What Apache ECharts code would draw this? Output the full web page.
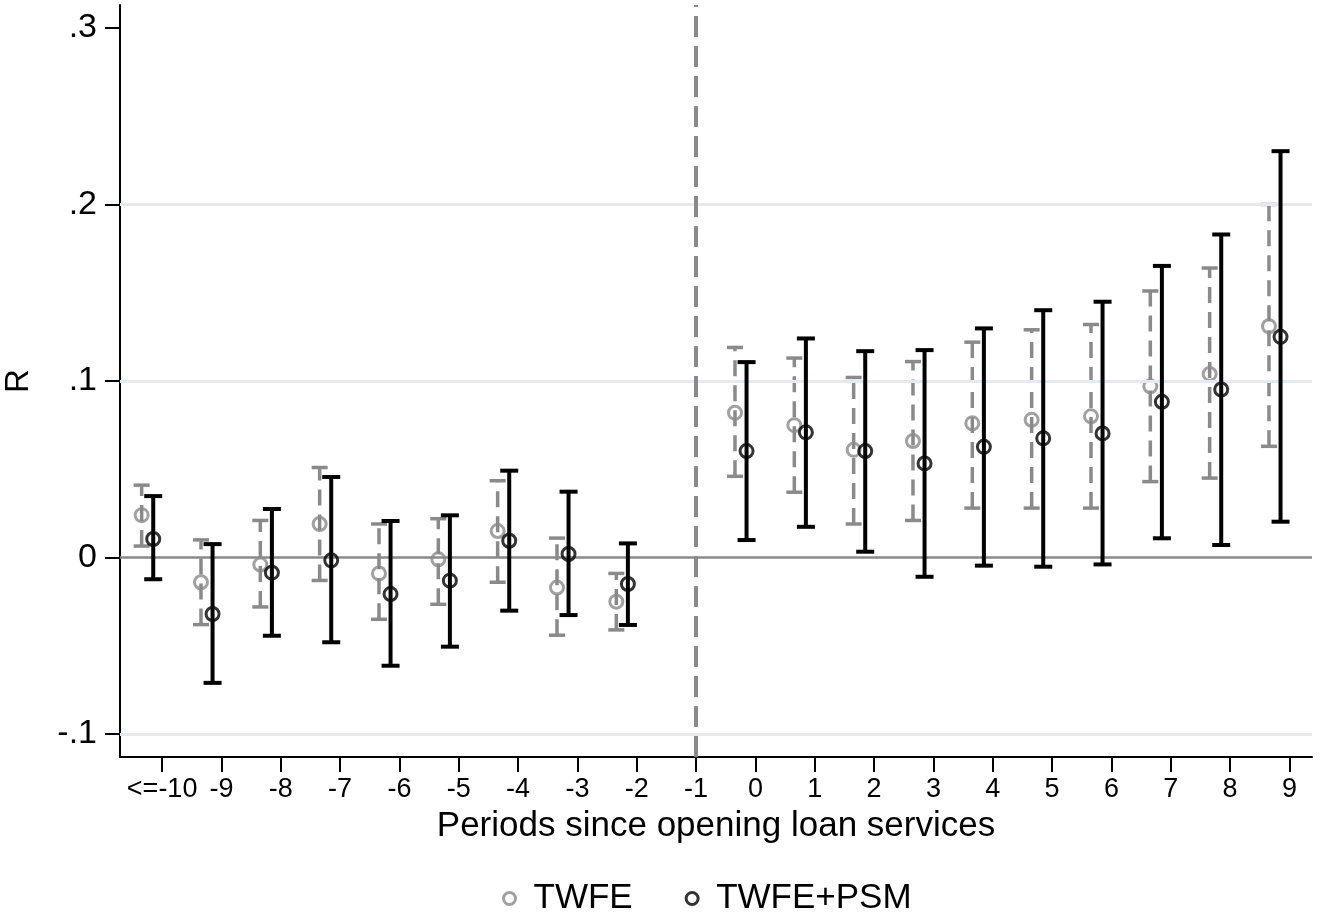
<!DOCTYPE html>
<html>
<head>
<meta charset="utf-8">
<script src="https://cdn.jsdelivr.net/npm/echarts@6/dist/echarts.min.js"></script>
<style>
html,body{margin:0;padding:0;background:#fff;}
#chart{width:1321px;height:918px;}
</style>
</head>
<body>
<div id="chart"></div>
<script>
// ---- data ----
const categories = ['<=-10','-9','-8','-7','-6','-5','-4','-3','-2','-1','0','1','2','3','4','5','6','7','8','9'];
const yTickValues = [-0.1, 0, 0.1, 0.2, 0.3];

const twfeCoef = [0.024, -0.014, -0.004, 0.019, -0.009, -0.001, 0.015, -0.017, -0.025, null, 0.082, 0.075, 0.061, 0.066, 0.076, 0.078, 0.080, 0.097, 0.104, 0.131];
const twfeLo   = [0.0065, -0.038, -0.028, -0.013, -0.035, -0.0265, -0.014, -0.044, -0.041, null, 0.046, 0.037, 0.019, 0.021, 0.028, 0.028, 0.028, 0.043, 0.045, 0.063];
const twfeHi   = [0.041, 0.010, 0.021, 0.051, 0.019, 0.022, 0.0435, 0.011, -0.009, null, 0.119, 0.113, 0.102, 0.111, 0.122, 0.129, 0.132, 0.151, 0.164, 0.200];

const psmCoef = [0.0105, -0.032, -0.0086, -0.0016, -0.0207, -0.0131, 0.0095, 0.002, -0.015, null, 0.0603, 0.0709, 0.0603, 0.0533, 0.0627, 0.0675, 0.0703, 0.0882, 0.0952, 0.125];
const psmLo   = [-0.0123, -0.071, -0.0443, -0.048, -0.0613, -0.0505, -0.0301, -0.0326, -0.0382, null, 0.0099, 0.0174, 0.0033, -0.0109, -0.0046, -0.0052, -0.0039, 0.0109, 0.0071, 0.0203];
const psmHi   = [0.0348, 0.0076, 0.0275, 0.0456, 0.0207, 0.0239, 0.0492, 0.0373, 0.008, null, 0.1107, 0.1241, 0.1169, 0.1175, 0.1298, 0.1401, 0.1449, 0.1652, 0.183, 0.2302];

const refPeriodIndex = categories.indexOf('-1');
const gridLineValues = [-0.1, 0.1, 0.2];

// ---- styling ----
const FONT = '"Liberation Sans", Arial, Helvetica, sans-serif';
const GRAY = '#8a8a8a';
const BLACK = '#000000';
const offGray = -0.345, offBlack = -0.15;

function pts(coef, off) {
  const out = [];
  coef.forEach((v, i) => { if (v !== null) out.push([i + off, v]); });
  return out;
}
function bars(lo, hi, off) {
  const out = [];
  lo.forEach((v, i) => { if (v !== null) out.push([i + off, v, hi[i]]); });
  return out;
}
function makeRender(color, width, dash, capHalf) {
  return function (params, api) {
    const x = api.value(0);
    const pLo = api.coord([x, api.value(1)]);
    const pHi = api.coord([x, api.value(2)]);
    return {
      type: 'group',
      children: [
        { type: 'line', shape: { x1: pLo[0], y1: pLo[1], x2: pHi[0], y2: pHi[1] },
          style: { stroke: color, lineWidth: width, lineDash: dash } },
        { type: 'line', shape: { x1: pLo[0] - capHalf, y1: pLo[1], x2: pLo[0] + capHalf, y2: pLo[1] },
          style: { stroke: color, lineWidth: width } },
        { type: 'line', shape: { x1: pHi[0] - capHalf, y1: pHi[1], x2: pHi[0] + capHalf, y2: pHi[1] },
          style: { stroke: color, lineWidth: width } }
      ]
    };
  };
}

const chart = echarts.init(document.getElementById('chart'), null, { renderer: 'canvas' });
chart.setOption({
  backgroundColor: '#ffffff',
  animation: false,
  grid: { left: 120, right: 9, top: 5, bottom: 161, containLabel: false, outerBoundsMode: 'none' },
  xAxis: {
    type: 'value',
    min: -0.71, max: 19.38,
    name: 'Periods since opening loan services',
    nameLocation: 'middle',
    nameGap: 52,
    nameTextStyle: { fontFamily: FONT, fontSize: 35, color: BLACK },
    axisLine: { show: true, onZero: false, lineStyle: { color: BLACK, width: 2 } },
    axisTick: { show: true, length: 15, customValues: categories.map((c, i) => i), lineStyle: { color: BLACK, width: 2 } },
    axisLabel: { show: true, customValues: categories.map((c, i) => i), margin: 19,
      fontFamily: FONT, fontSize: 27, color: BLACK,
      formatter: v => categories[Math.round(v)] },
    splitLine: { show: false }
  },
  yAxis: {
    type: 'value',
    min: -0.113, max: 0.313,
    name: 'R',
    nameLocation: 'middle',
    nameGap: 85,
    nameTextStyle: { fontFamily: FONT, fontSize: 33, color: BLACK },
    axisLine: { show: true, onZero: false, lineStyle: { color: BLACK, width: 2 } },
    axisTick: { show: true, length: 15, customValues: yTickValues, lineStyle: { color: BLACK, width: 2 } },
    axisLabel: { show: true, customValues: yTickValues, margin: 23,
      fontFamily: FONT, fontSize: 34, color: BLACK,
      formatter: v => v === 0 ? '0' : String(v).replace('0.', '.') },
    splitLine: { show: false }
  },
  legend: {
    bottom: -3, left: 497,
    itemWidth: 12, itemHeight: 12, itemGap: 52,
    icon: 'circle',
    textStyle: { fontFamily: FONT, fontSize: 35, color: BLACK, padding: [0, 0, 0, 13] },
    data: [
      { name: 'TWFE', itemStyle: { color: 'transparent', borderColor: GRAY, borderWidth: 3 } },
      { name: 'TWFE+PSM', itemStyle: { color: 'transparent', borderColor: BLACK, borderWidth: 3 } }
    ]
  },
  series: [
    {
      type: 'line', data: [], z: 1, silent: true,
      markLine: {
        silent: true, symbol: 'none', animation: false,
        label: { show: false },
        data: [
          ...gridLineValues.map(v => ({ yAxis: v, lineStyle: { color: '#e3ebef', width: 3, type: 'solid' } })),
          { yAxis: 0, lineStyle: { color: GRAY, width: 2.5, type: 'solid' } },
          { xAxis: refPeriodIndex, lineStyle: { color: GRAY, width: 4, type: [21, 9] } }
        ]
      }
    },
    {
      name: 'TWFE bars', type: 'custom', z: 3, silent: true,
      renderItem: makeRender(GRAY, 3.5, [16, 9], 8),
      encode: { x: 0, y: [1, 2] },
      data: bars(twfeLo, twfeHi, offGray)
    },
    {
      name: 'TWFE', type: 'scatter', z: 4, symbol: 'circle', symbolSize: 13,
      itemStyle: { color: 'transparent', borderColor: GRAY, borderWidth: 3 },
      data: pts(twfeCoef, offGray)
    },
    {
      name: 'TWFE+PSM bars', type: 'custom', z: 5, silent: true,
      renderItem: makeRender(BLACK, 4, null, 9),
      encode: { x: 0, y: [1, 2] },
      data: bars(psmLo, psmHi, offBlack)
    },
    {
      name: 'TWFE+PSM', type: 'scatter', z: 6, symbol: 'circle', symbolSize: 13,
      itemStyle: { color: 'transparent', borderColor: BLACK, borderWidth: 3 },
      data: pts(psmCoef, offBlack)
    }
  ]
});
</script>
</body>
</html>
